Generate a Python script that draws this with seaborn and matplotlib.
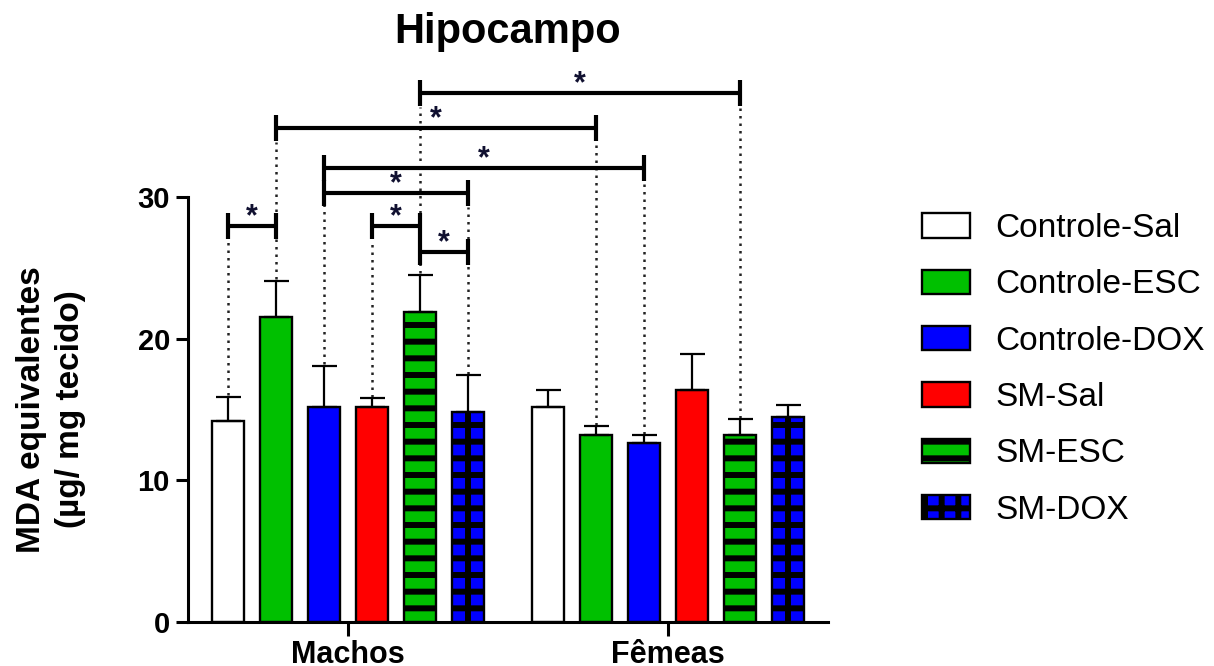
import numpy as np
import pandas as pd
import matplotlib
matplotlib.use("Agg")
import matplotlib.pyplot as plt
import seaborn as sns
from matplotlib.patches import Patch

# ---------------- data ----------------
sexes = ["Machos", "Fêmeas"]
groups = ["Controle-Sal", "Controle-ESC", "Controle-DOX", "SM-Sal", "SM-ESC", "SM-DOX"]
machos_mean = [14.2, 21.5, 15.2, 15.2, 21.9, 14.8]
machos_sem = [1.7, 2.6, 2.9, 0.6, 2.6, 2.6]
femeas_mean = [15.2, 13.2, 12.6, 16.4, 13.2, 14.5]
femeas_sem = [1.2, 0.6, 0.6, 2.5, 1.1, 0.8]
yticks = [0, 10, 20, 30]

# significance comparisons (sex, group) vs (sex, group)
comparisons = [
    (("Machos", "Controle-Sal"), ("Machos", "Controle-ESC")),
    (("Machos", "SM-Sal"), ("Machos", "SM-ESC")),
    (("Machos", "SM-ESC"), ("Machos", "SM-DOX")),
    (("Machos", "Controle-DOX"), ("Machos", "SM-DOX")),
    (("Machos", "Controle-DOX"), ("Fêmeas", "Controle-DOX")),
    (("Machos", "Controle-ESC"), ("Fêmeas", "Controle-ESC")),
    (("Machos", "SM-ESC"), ("Fêmeas", "SM-ESC")),
]
bracket_heights = [27.95, 27.95, 26.1, 30.3, 32.05, 34.9, 37.35]

# ---------------- style ----------------
colors = {"Controle-Sal": "#FFFFFF", "Controle-ESC": "#00C000", "Controle-DOX": "#0000FF",
          "SM-Sal": "#FF0000", "SM-ESC": "#00C000", "SM-DOX": "#0000FF"}
bar_hatches = {"SM-ESC": "-", "SM-DOX": "-"}
legend_hatches = {"SM-ESC": "-", "SM-DOX": "+"}
center_line_groups = ["SM-DOX"]

sns.set_theme(style="ticks")
plt.rcParams["font.family"] = ["Liberation Sans", "DejaVu Sans"]
plt.rcParams["hatch.linewidth"] = 4.3
plt.rcParams["hatch.color"] = "black"
for key in ("text.color", "axes.labelcolor", "xtick.color", "ytick.color", "axes.edgecolor"):
    plt.rcParams[key] = "black"

df = pd.DataFrame({
    "sexo": np.repeat(sexes, len(groups)),
    "grupo": groups * len(sexes),
    "valor": machos_mean + femeas_mean,
    "erro": machos_sem + femeas_sem,
})

fig = plt.figure(figsize=(12.14, 6.66), dpi=100)
ax = fig.add_axes([0.1549, 0.0661, 0.5272, 0.6381])

sns.barplot(data=df, x="sexo", y="valor", hue="grupo", order=sexes, hue_order=groups,
            palette=colors, saturation=1, errorbar=None, width=0.9, gap=0.33,
            edgecolor="black", linewidth=1.7, legend=False, ax=ax)

bar_containers = list(ax.containers)[:len(groups)]
centers = {}
tops = {}
for gi, cont in enumerate(bar_containers):
    g = groups[gi]
    for si, bar in enumerate(cont):
        s = sexes[si]
        if g in bar_hatches:
            bar.set_hatch(bar_hatches[g])
        cx = bar.get_x() + bar.get_width() / 2
        row = df[(df["sexo"] == s) & (df["grupo"] == g)].iloc[0]
        centers[(s, g)] = cx
        tops[(s, g)] = row["valor"] + row["erro"]
        if g in center_line_groups:
            ax.plot([cx, cx], [0, bar.get_height()], color="black", lw=4.3,
                    solid_capstyle="butt", zorder=2.5)
        ax.errorbar(cx, row["valor"], yerr=[[0], [row["erro"]]], fmt="none", ecolor="black",
                    elinewidth=1.6, capsize=9, capthick=1.6, zorder=3)

# brackets
cap = 0.92
highest = {}
for (a, b), h in zip(comparisons, bracket_heights):
    for k in (a, b):
        highest[k] = max(highest.get(k, 0), h)
    x1, x2 = centers[a], centers[b]
    ax.plot([x1, x2], [h, h], color="black", lw=3, clip_on=False, solid_capstyle="butt", zorder=4)
    for xx in (x1, x2):
        ax.plot([xx, xx], [h - cap, h + cap], color="black", lw=3, clip_on=False,
                solid_capstyle="butt", zorder=4)
    ax.text((x1 + x2) / 2, h + 0.05, "*", ha="center", va="baseline", fontsize=22,
            fontweight="bold", color="#101030", clip_on=False)

for k, h in highest.items():
    ax.plot([centers[k], centers[k]], [tops[k] + 0.1, h - cap - 0.1], color="#222222",
            lw=1.8, ls=(0, (1, 2)), clip_on=False, zorder=2)

# axes
ax.set_xlim(-0.5, 1.5)
ax.set_ylim(0, 30)
ax.set_yticks(yticks)
ax.set_yticklabels([str(t) for t in yticks], fontsize=21, fontweight="bold")
ax.set_xticks([0, 1])
ax.set_xticklabels(sexes, fontsize=22, fontweight="bold")
ax.tick_params(axis="y", length=9, width=2.2, pad=4, color="black", labelcolor="black")
ax.tick_params(axis="x", length=10, width=2.2, pad=3, color="black", labelcolor="black")
sns.despine(ax=ax)
for sp in ("left", "bottom"):
    ax.spines[sp].set_linewidth(2.2)
    ax.spines[sp].set_color("black")
ax.set_xlabel("")
ax.set_ylabel("MDA equivalentes\n(µg/ mg tecido)", fontsize=24, fontweight="bold",
              linespacing=1.3, color="black")
ax.yaxis.set_label_coords(-0.16, 0.5)
ax.set_title("Hipocampo", fontsize=30, fontweight="bold", y=1.362, pad=0, color="black")

handles = [Patch(facecolor=colors[g], edgecolor="black", linewidth=1.7,
                 hatch=legend_hatches.get(g, ""), label=g) for g in groups]
fig.legend(handles=handles, loc="upper left", bbox_to_anchor=(0.7595, 0.680),
           bbox_transform=fig.transFigure, frameon=False, fontsize=24, borderpad=0,
           borderaxespad=0, handlelength=1.45, handleheight=0.75, handletextpad=0.76,
           labelspacing=0.76, labelcolor="black")

fig.savefig("out.png", dpi=100)
